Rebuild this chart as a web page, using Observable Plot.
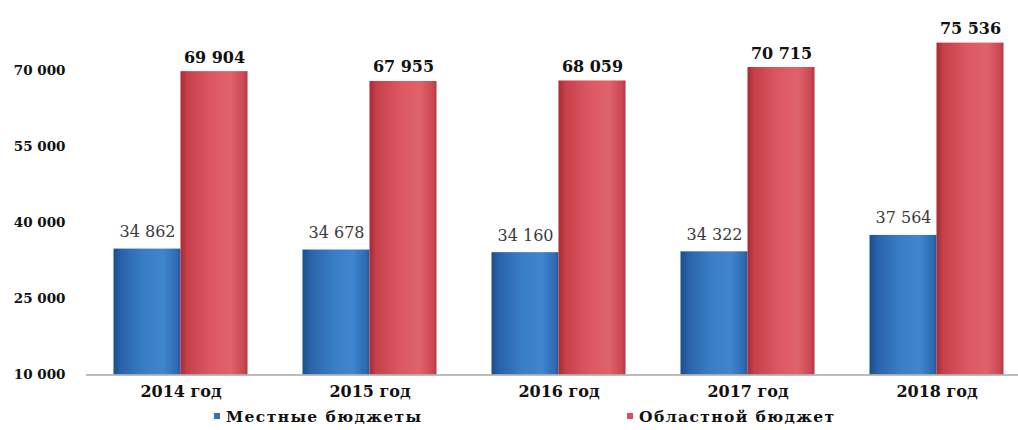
<!DOCTYPE html>
<html>
<head>
<meta charset="utf-8">
<script src="https://cdn.jsdelivr.net/npm/d3@7"></script>
<script src="https://cdn.jsdelivr.net/npm/@observablehq/plot@0.6"></script>
<style>
  html, body { margin: 0; padding: 0; background: #ffffff; }
  #chart { width: 1018px; }
  .legend { position: relative; height: 24px; width: 1018px; font-family: "DejaVu Serif", serif; font-weight: bold; font-size: 15.5px; color: #111; }
  .legend .item { position: absolute; top: 0; line-height: 24px; white-space: nowrap; letter-spacing: 1.4px; }
  .legend .sw { display: inline-block; width: 6px; height: 6px; margin-right: 6px; vertical-align: middle; position: relative; top: -2px; }
</style>
</head>
<body>
<div id="chart"></div>
<script>
const years = ["2014 год", "2015 год", "2016 год", "2017 год", "2018 год"];
const seriesNames = ["Местные бюджеты", "Областной бюджет"];
const localBudget = [34862, 34678, 34160, 34322, 37564];
const regionalBudget = [69904, 67955, 68059, 70715, 75536];
const yTicks = [10000, 25000, 40000, 55000, 70000];

const rows = [];
years.forEach((y, i) => {
  rows.push({year: y, series: seriesNames[0], value: localBudget[i]});
  rows.push({year: y, series: seriesNames[1], value: regionalBudget[i]});
});

const fmt = d3.formatLocale({decimal: ",", thousands: " ", grouping: [3], currency: ["", ""]}).format(",d");

const svg = Plot.plot({
  width: 1018,
  height: 405,
  marginTop: 20,
  marginBottom: 30.5,
  marginLeft: 85.5,
  marginRight: 0,
  style: {fontFamily: "DejaVu Serif, serif", background: "#ffffff", overflow: "hidden"},
  fx: {domain: years, range: [85.5, 1030.5], padding: 0, label: null},
  x: {domain: seriesNames, paddingInner: 0, paddingOuter: 0.39, axis: null},
  y: {domain: [10000, 80000], label: null},
  color: {domain: seriesNames, range: ["url(#gBlue)", "url(#gRed)"]},
  marks: [
    Plot.barY(rows, {fx: "year", x: "series", y1: 10000, y2: "value", fill: "series", inset: 0}),
    Plot.ruleY([10000], {stroke: "#a6a6a6", strokeWidth: 1.6}),
    Plot.axisY({ticks: yTicks, tickFormat: fmt, tickSize: 0, tickPadding: 21, line: true, stroke: "#b0b0b0",
      fill: "#111", fontSize: 13.5, fontWeight: "bold", letterSpacing: 1, label: null}),
    Plot.axisFx({anchor: "bottom", tickSize: 0, tickPadding: 11, fontSize: 16, fontWeight: "bold", fill: "#111", label: null}),
    Plot.text(rows.filter(d => d.series === seriesNames[0]), {fx: "year", x: "series", y: "value", text: d => fmt(d.value),
      lineAnchor: "bottom", dy: -12, fontSize: 16, fill: "#3a3a3a", letterSpacing: 2}),
    Plot.text(rows.filter(d => d.series === seriesNames[1]), {fx: "year", x: "series", y: "value", text: d => fmt(d.value),
      lineAnchor: "bottom", dy: -9, fontSize: 16, fontWeight: "bold", fill: "#111", letterSpacing: 0.6})
  ]
});

// gradients for cylinder-like bars
const defs = d3.select(svg).insert("defs", ":first-child");
function grad(id, stops) {
  const g = defs.append("linearGradient").attr("id", id).attr("x1", "0").attr("x2", "1").attr("y1", "0").attr("y2", "0");
  stops.forEach(([o, c]) => g.append("stop").attr("offset", o).attr("stop-color", c));
}
grad("gBlue", [[0, "#1c4d8c"], [0.12, "#2a63aa"], [0.45, "#397dc6"], [0.75, "#4085cd"], [0.95, "#2d6ab1"], [1, "#22599b"]]);
grad("gRed", [[0, "#a52a34"], [0.1, "#c6404a"], [0.45, "#db5761"], [0.75, "#e0636b"], [0.95, "#ca4750"], [1, "#b23640"]]);

document.getElementById("chart").appendChild(svg);

// legend
const legend = document.createElement("div");
legend.className = "legend";
const legendPos = [214, 627];
const legendColors = ["#3472bb", "#d9505a"];
seriesNames.forEach((name, i) => {
  const item = document.createElement("div");
  item.className = "item";
  item.style.left = legendPos[i] + "px";
  const sw = document.createElement("span");
  sw.className = "sw";
  sw.style.background = legendColors[i];
  item.appendChild(sw);
  item.appendChild(document.createTextNode(name));
  legend.appendChild(item);
});
document.getElementById("chart").appendChild(legend);
</script>
</body>
</html>
